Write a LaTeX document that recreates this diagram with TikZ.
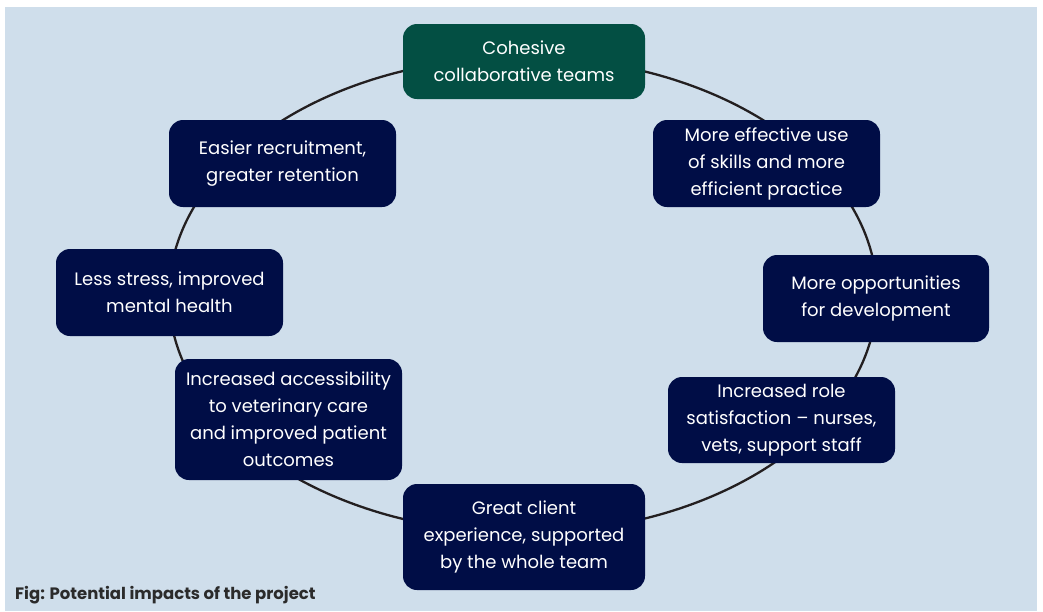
\documentclass[tikz,border=0pt]{standalone}
\usepackage{fontspec}
\setmainfont{Poppins}
\definecolor{bgblue}{HTML}{CFDEEB}
\definecolor{navy}{HTML}{000D46}
\definecolor{teal}{HTML}{034F43}
\definecolor{ringc}{HTML}{231F20}
\definecolor{capc}{HTML}{2B2B2B}
\tikzset{
  impact/.style={draw=none, fill=navy, text=white, rounded corners=14pt, align=center,
    inner sep=0pt, font=\fontsize{18}{27}\selectfont},
  mainbox/.style={impact, fill=teal},
  ring/.style={draw=ringc, line width=2.3pt},
}
\begin{document}
\begin{tikzpicture}[x=1pt,y=-1pt]
\useasboundingbox (0,0) rectangle (1043,611);
\fill[white] (0,0) rectangle (1043,611);
\fill[bgblue] (5,7) rectangle (1037,611);
\draw[ring] (523,295) ellipse [x radius=354, y radius=238];
\node[mainbox, minimum width=242pt, minimum height=75pt] (cohesive) at (524,61.5) {Cohesive\\collaborative teams};
\node[impact, minimum width=227pt, minimum height=87pt] (skills) at (766.5,163.5) {More effective use\\of skills and more\\efficient practice};
\node[impact, minimum width=226pt, minimum height=87pt] (develop) at (876,298.5) {More opportunities\\for development};
\node[impact, minimum width=227pt, minimum height=86pt] (role) at (781.5,420) {Increased role\\satisfaction -- nurses,\\vets, support staff};
\node[impact, minimum width=242pt, minimum height=106pt] (client) at (524,537) {Great client\\experience, supported\\by the whole team};
\node[impact, minimum width=227pt, minimum height=121pt] (access) at (288.5,419.5) {Increased accessibility\\to veterinary care\\and improved patient\\outcomes};
\node[impact, minimum width=227pt, minimum height=87pt] (stress) at (169.5,292.5) {Less stress, improved\\mental health};
\node[impact, minimum width=227pt, minimum height=87pt] (recruit) at (282.5,163.5) {Easier recruitment,\\greater retention};
\node[anchor=base west, inner sep=0pt, text=capc, font=\fontsize{16.5}{19}\selectfont\bfseries] (caption) at (15,599) {Fig: Potential impacts of the project};
\end{tikzpicture}
\end{document}
